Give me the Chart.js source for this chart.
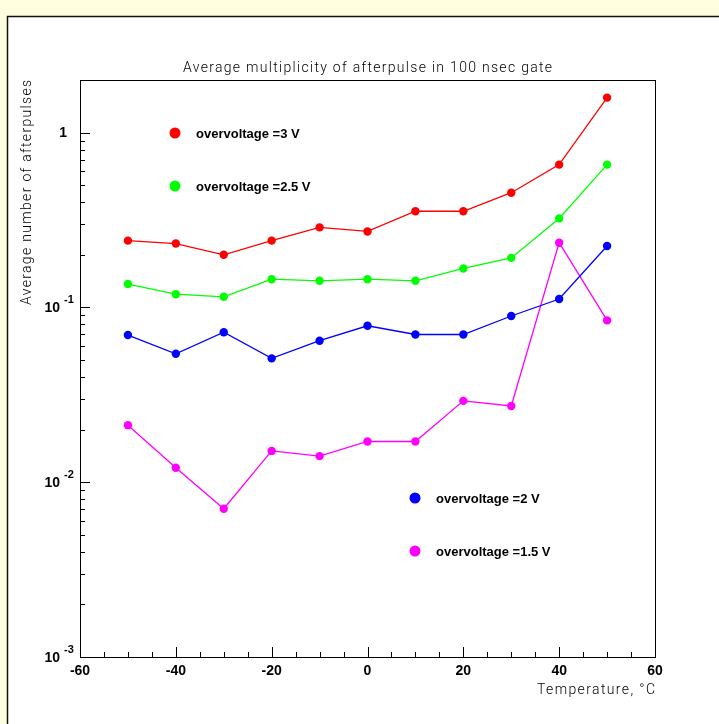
<!DOCTYPE html>
<html>
<head>
<meta charset="utf-8">
<title>Afterpulse multiplicity</title>
<script src="https://cdn.jsdelivr.net/npm/chart.js@4.4.0/dist/chart.umd.min.js"></script>
<style>
  html, body { margin: 0; padding: 0; background: #ffffe0; }
  #wrap { width: 719px; height: 724px; }
</style>
</head>
<body>
<div id="wrap"><canvas id="apChart" width="719" height="724"></canvas></div>
<script>
// temperatures in degC, values = average number of afterpulses in 100 ns gate
const temperatures = [-50, -40, -30, -20, -10, 0, 10, 20, 30, 40, 50];
const ov3V  = [0.241, 0.232, 0.200, 0.241, 0.287, 0.272, 0.355, 0.355, 0.453, 0.656, 1.585];
const ov25V = [0.136, 0.119, 0.115, 0.145, 0.142, 0.145, 0.142, 0.167, 0.192, 0.323, 0.656];
const ov2V  = [0.0695, 0.0543, 0.0721, 0.0511, 0.0645, 0.0785, 0.070, 0.070, 0.0893, 0.1117, 0.2246];
const ov15V = [0.0212, 0.0121, 0.00705, 0.0151, 0.0141, 0.0171, 0.0171, 0.0292, 0.0273, 0.2346, 0.0843];

const seriesLabels = ['overvoltage =3 V', 'overvoltage =2.5 V', 'overvoltage =2 V', 'overvoltage =1.5 V'];
const seriesColors = ['#ff0000', '#00ff00', '#0000ff', '#ff00ff'];

const xTickLabels = [-60, -40, -20, 0, 20, 40, 60];
const yDecades = [1e-3, 1e-2, 1e-1, 1];

const TITLE = 'Average multiplicity of afterpulse in 100 nsec gate';
const X_TITLE = 'Temperature, \u00b0C';
const Y_TITLE = 'Average number of afterpulses';

const THIN = '300 14px Roboto, "DejaVu Sans", sans-serif';
const BOLD = '"Liberation Sans", Arial, sans-serif';

const toPoints = ys => temperatures.map((t, i) => ({ x: t, y: ys[i] }));

const datasets = [ov3V, ov25V, ov2V, ov15V].map((ys, i) => ({
  label: seriesLabels[i],
  data: toPoints(ys),
  borderColor: seriesColors[i],
  backgroundColor: seriesColors[i],
  borderWidth: 1.3,
  pointRadius: 4.2,
  pointHoverRadius: 4.2,
  pointBorderWidth: 0,
  tension: 0,
}));

// stretch a string with letter spacing so it covers a given width
function fitText(ctx, text, x, y, width) {
  ctx.letterSpacing = '0px';
  const w = ctx.measureText(text).width;
  const sp = (width - w) / (text.length - 1);
  ctx.letterSpacing = sp.toFixed(2) + 'px';
  ctx.fillText(text, x, y);
  ctx.letterSpacing = '0px';
}

// ROOT-like canvas: yellow pad, white panel, inward ticks, boxed frame
const padPlugin = {
  id: 'pad',
  beforeDraw(chart) {
    const { ctx, width, height } = chart;
    ctx.save();
    ctx.fillStyle = '#ffffe0';
    ctx.fillRect(0, 0, width, height);
    ctx.fillStyle = '#ffffff';
    ctx.fillRect(7, 16, width, height);
    ctx.strokeStyle = '#111';
    ctx.lineWidth = 1.5;
    ctx.beginPath();
    ctx.moveTo(7.5, height + 5);
    ctx.lineTo(7.5, 16.5);
    ctx.lineTo(width + 5, 16.5);
    ctx.stroke();
    ctx.restore();
  }
};

const axesPlugin = {
  id: 'rootAxes',
  afterDatasetsDraw(chart) {
    const { ctx, chartArea: a, scales: { x, y } } = chart;
    ctx.save();

    // frame
    ctx.strokeStyle = '#000';
    ctx.lineWidth = 1;
    ctx.strokeRect(Math.round(a.left) + 0.5, Math.round(a.top) + 0.5,
                   Math.round(a.right - a.left), Math.round(a.bottom - a.top));

    // x ticks: major every 20, minor every 5
    ctx.beginPath();
    for (let v = x.min; v <= x.max; v += 5) {
      const px = Math.round(x.getPixelForValue(v)) + 0.5;
      const len = v % 20 === 0 ? 10 : 5;
      ctx.moveTo(px, a.bottom);
      ctx.lineTo(px, a.bottom - len);
    }
    // y ticks: decades + 2..9 minors
    for (const d of yDecades) {
      for (let k = 1; k <= 9; k++) {
        const v = d * k;
        if (v > y.max || v < y.min) continue;
        const py = Math.round(y.getPixelForValue(v)) + 0.5;
        ctx.moveTo(a.left, py);
        ctx.lineTo(a.left + (k === 1 ? 10 : 5), py);
      }
    }
    ctx.stroke();

    // x tick labels
    ctx.fillStyle = '#000';
    ctx.font = 'bold 14px ' + BOLD;
    ctx.textAlign = 'center';
    ctx.textBaseline = 'middle';
    for (const v of xTickLabels) {
      ctx.fillText(String(v), x.getPixelForValue(v), a.bottom + 14);
    }

    // y tick labels as powers of ten
    for (const d of yDecades) {
      const py = y.getPixelForValue(d);
      const exp = Math.round(Math.log10(d));
      if (exp === 0) {
        ctx.font = 'bold 14px ' + BOLD;
        ctx.textAlign = 'right';
        ctx.fillText('1', a.left - 13, py + 1);
      } else {
        ctx.font = 'bold 14px ' + BOLD;
        ctx.textAlign = 'right';
        ctx.fillText('10', a.left - 20, py + 1);
        ctx.font = 'bold 11px ' + BOLD;
        ctx.textAlign = 'left';
        ctx.fillText(String(exp), a.left - 16, py - 7);
      }
    }

    // titles
    ctx.font = THIN;
    ctx.textAlign = 'left';
    fitText(ctx, TITLE, 183, 68, 369);
    fitText(ctx, X_TITLE, 537, 690, 118);

    ctx.save();
    ctx.translate(27, a.top + 225);
    ctx.rotate(-Math.PI / 2);
    fitText(ctx, Y_TITLE, 0, 0, 225);
    ctx.restore();

    // in-frame legend entries
    const entries = [
      { i: 0, x: a.left + 95, y: a.top + 53 },
      { i: 1, x: a.left + 95, y: a.top + 106 },
      { i: 2, x: a.left + 335, y: a.top + 418 },
      { i: 3, x: a.left + 335, y: a.top + 471 },
    ];
    ctx.font = 'bold 13px ' + BOLD;
    ctx.textAlign = 'left';
    for (const e of entries) {
      ctx.fillStyle = seriesColors[e.i];
      ctx.beginPath();
      ctx.arc(e.x, e.y, 5.5, 0, Math.PI * 2);
      ctx.fill();
      ctx.fillStyle = '#000';
      ctx.fillText(seriesLabels[e.i], e.x + 21, e.y + 1);
    }
    ctx.restore();
  }
};

new Chart(document.getElementById('apChart'), {
  type: 'line',
  data: { datasets },
  options: {
    responsive: false,
    animation: false,
    layout: { padding: { left: 80, top: 80, right: 64, bottom: 67 } },
    plugins: { legend: { display: false }, tooltip: { enabled: false }, title: { display: false } },
    scales: {
      x: { type: 'linear', min: -60, max: 60, display: false },
      y: { type: 'logarithmic', min: 0.001, max: 2, display: false },
    },
  },
  plugins: [padPlugin, axesPlugin],
});
</script>
</body>
</html>
